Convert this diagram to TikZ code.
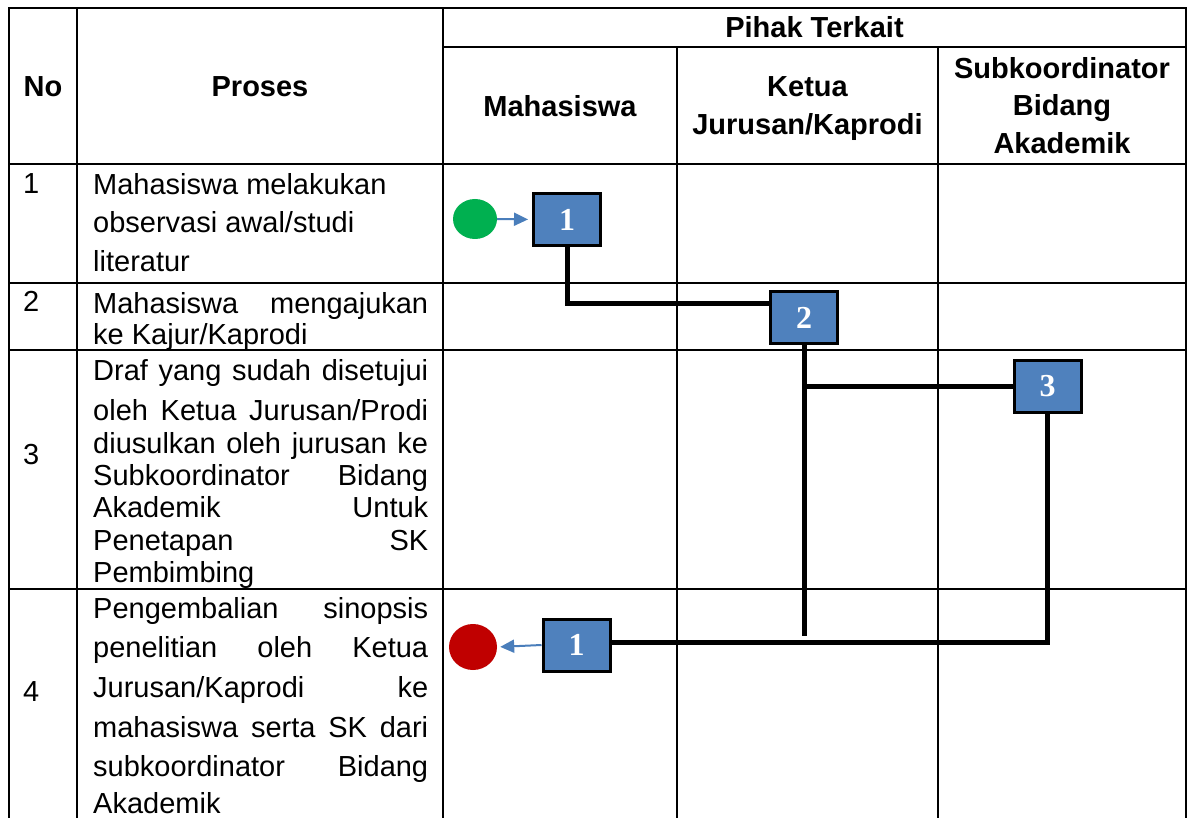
\documentclass[tikz,border=0pt]{standalone}
\usepackage{fontspec}
\setmainfont{Liberation Sans}
\newfontfamily\numfont{Liberation Serif}
\usetikzlibrary{arrows.meta,shapes.geometric}
\definecolor{boxblue}{HTML}{4F81BD}
\definecolor{arrowblue}{HTML}{4A7EBB}
\definecolor{startgreen}{HTML}{00B050}
\definecolor{endred}{HTML}{C00000}
\begin{document}
\begin{tikzpicture}[x=1pt,y=-1pt,
  gridline/.style={draw=black, line width=2pt},
  txt/.style={inner sep=0pt, font=\fontsize{29}{34}\selectfont, anchor=base west},
  head/.style={inner sep=0pt, font=\fontsize{29}{34}\selectfont\bfseries, anchor=base},
  stepbox/.style={draw=black, line width=3pt, fill=boxblue, minimum width=67pt, minimum height=52pt, inner sep=0pt, font=\numfont\fontsize{32}{32}\selectfont\bfseries, text=white},
  flow/.style={draw=black, line width=5pt},
  flowarrow/.style={draw=arrowblue, line width=2pt, -{Triangle[length=14pt,width=13pt]}},
  terminal/.style={ellipse, inner sep=0pt, draw=none}
]
\useasboundingbox (0,0) rectangle (1193,818);
\fill[white] (0,0) rectangle (1193,818);
% grid
\draw[gridline] (9,818) -- (9,8) -- (1186,8) -- (1186,818);
\draw[gridline] (77,8) -- (77,818);
\draw[gridline] (443,8) -- (443,818);
\draw[gridline] (443,47) -- (1186,47);
\draw[gridline] (677,47) -- (677,818);
\draw[gridline] (938,47) -- (938,818);
\draw[gridline] (9,164) -- (1186,164);
\draw[gridline] (9,283) -- (1186,283);
\draw[gridline] (9,350) -- (1186,350);
\draw[gridline] (9,589) -- (1186,589);
% headers
\node[head] (hno) at (43,97) {No};
\node[head] (hproses) at (260,97) {Proses};
\node[head] (hpihak) at (814.5,38) {Pihak Terkait};
\node[head] (hmhs) at (560,117) {Mahasiswa};
\node[head] (hketua1) at (807.5,97) {Ketua};
\node[head] (hketua2) at (807.5,135) {Jurusan/Kaprodi};
\node[head] (hsub1) at (1062,79) {Subkoordinator};
\node[head] (hsub2) at (1062,116) {Bidang};
\node[head] (hsub3) at (1062,154) {Akademik};
% numbers
\node[txt] (n1) at (23,194) {1};
\node[txt] (n2) at (23,311) {2};
\node[txt] (n3) at (23,464) {3};
\node[txt] (n4) at (23,701) {4};
% process texts
\node[txt] (p1a) at (93,195) {Mahasiswa melakukan};
\node[txt] (p1b) at (93,233) {observasi awal/studi};
\node[txt] (p1c) at (93,272) {literatur};
\node[txt] (p2a) at (93,313) {\makebox[335pt][s]{Mahasiswa mengajukan}};
\node[txt] (p2b) at (93,344) {ke Kajur/Kaprodi};
\node[txt] (p3a) at (93,380) {\makebox[335pt][s]{Draf yang sudah disetujui}};
\node[txt] (p3b) at (93,420) {\makebox[335pt][s]{oleh Ketua Jurusan/Prodi}};
\node[txt] (p3c) at (93,453) {\makebox[335pt][s]{diusulkan oleh jurusan ke}};
\node[txt] (p3d) at (93,485) {\makebox[335pt][s]{Subkoordinator Bidang}};
\node[txt] (p3e) at (93,517) {\makebox[335pt][s]{Akademik Untuk}};
\node[txt] (p3f) at (93,550) {\makebox[335pt][s]{Penetapan SK}};
\node[txt] (p3g) at (93,582) {Pembimbing};
\node[txt] (p4a) at (93,618) {\makebox[335pt][s]{Pengembalian sinopsis}};
\node[txt] (p4b) at (93,657) {\makebox[335pt][s]{penelitian oleh Ketua}};
\node[txt] (p4c) at (93,697) {\makebox[335pt][s]{Jurusan/Kaprodi ke}};
\node[txt] (p4d) at (93,737) {\makebox[335pt][s]{mahasiswa serta SK dari}};
\node[txt] (p4e) at (93,776) {\makebox[335pt][s]{subkoordinator Bidang}};
\node[txt] (p4f) at (93,813) {Akademik};
% flow
\node[terminal, fill=startgreen, minimum width=44pt, minimum height=40pt] (start) at (475,219) {};
\node[stepbox] (b1) at (567,219.5) {1};
\node[stepbox] (b2) at (804,317.5) {2};
\node[stepbox] (b3) at (1047.5,386.5) {3};
\node[stepbox] (b4) at (576.5,645) {1};
\node[terminal, fill=endred, minimum width=48pt, minimum height=46pt] (end) at (473,647) {};
\coordinate (e2) at (804,636);
\draw[flowarrow, shorten >=4pt] (start.east) -- (b1.west);
\draw[flow] (b1.south) |- ([yshift=14.5pt]b2.west);
\draw[flow] (b2.south) -- (e2);
\draw[flow] (b2.south |- b3.west) -- (b3.west);
\draw[flow] (b3.south) |- ([yshift=3pt]b4.east);
\draw[flowarrow, shorten >=3pt] (b4.west) -- (end.east);
\end{tikzpicture}
\end{document}
